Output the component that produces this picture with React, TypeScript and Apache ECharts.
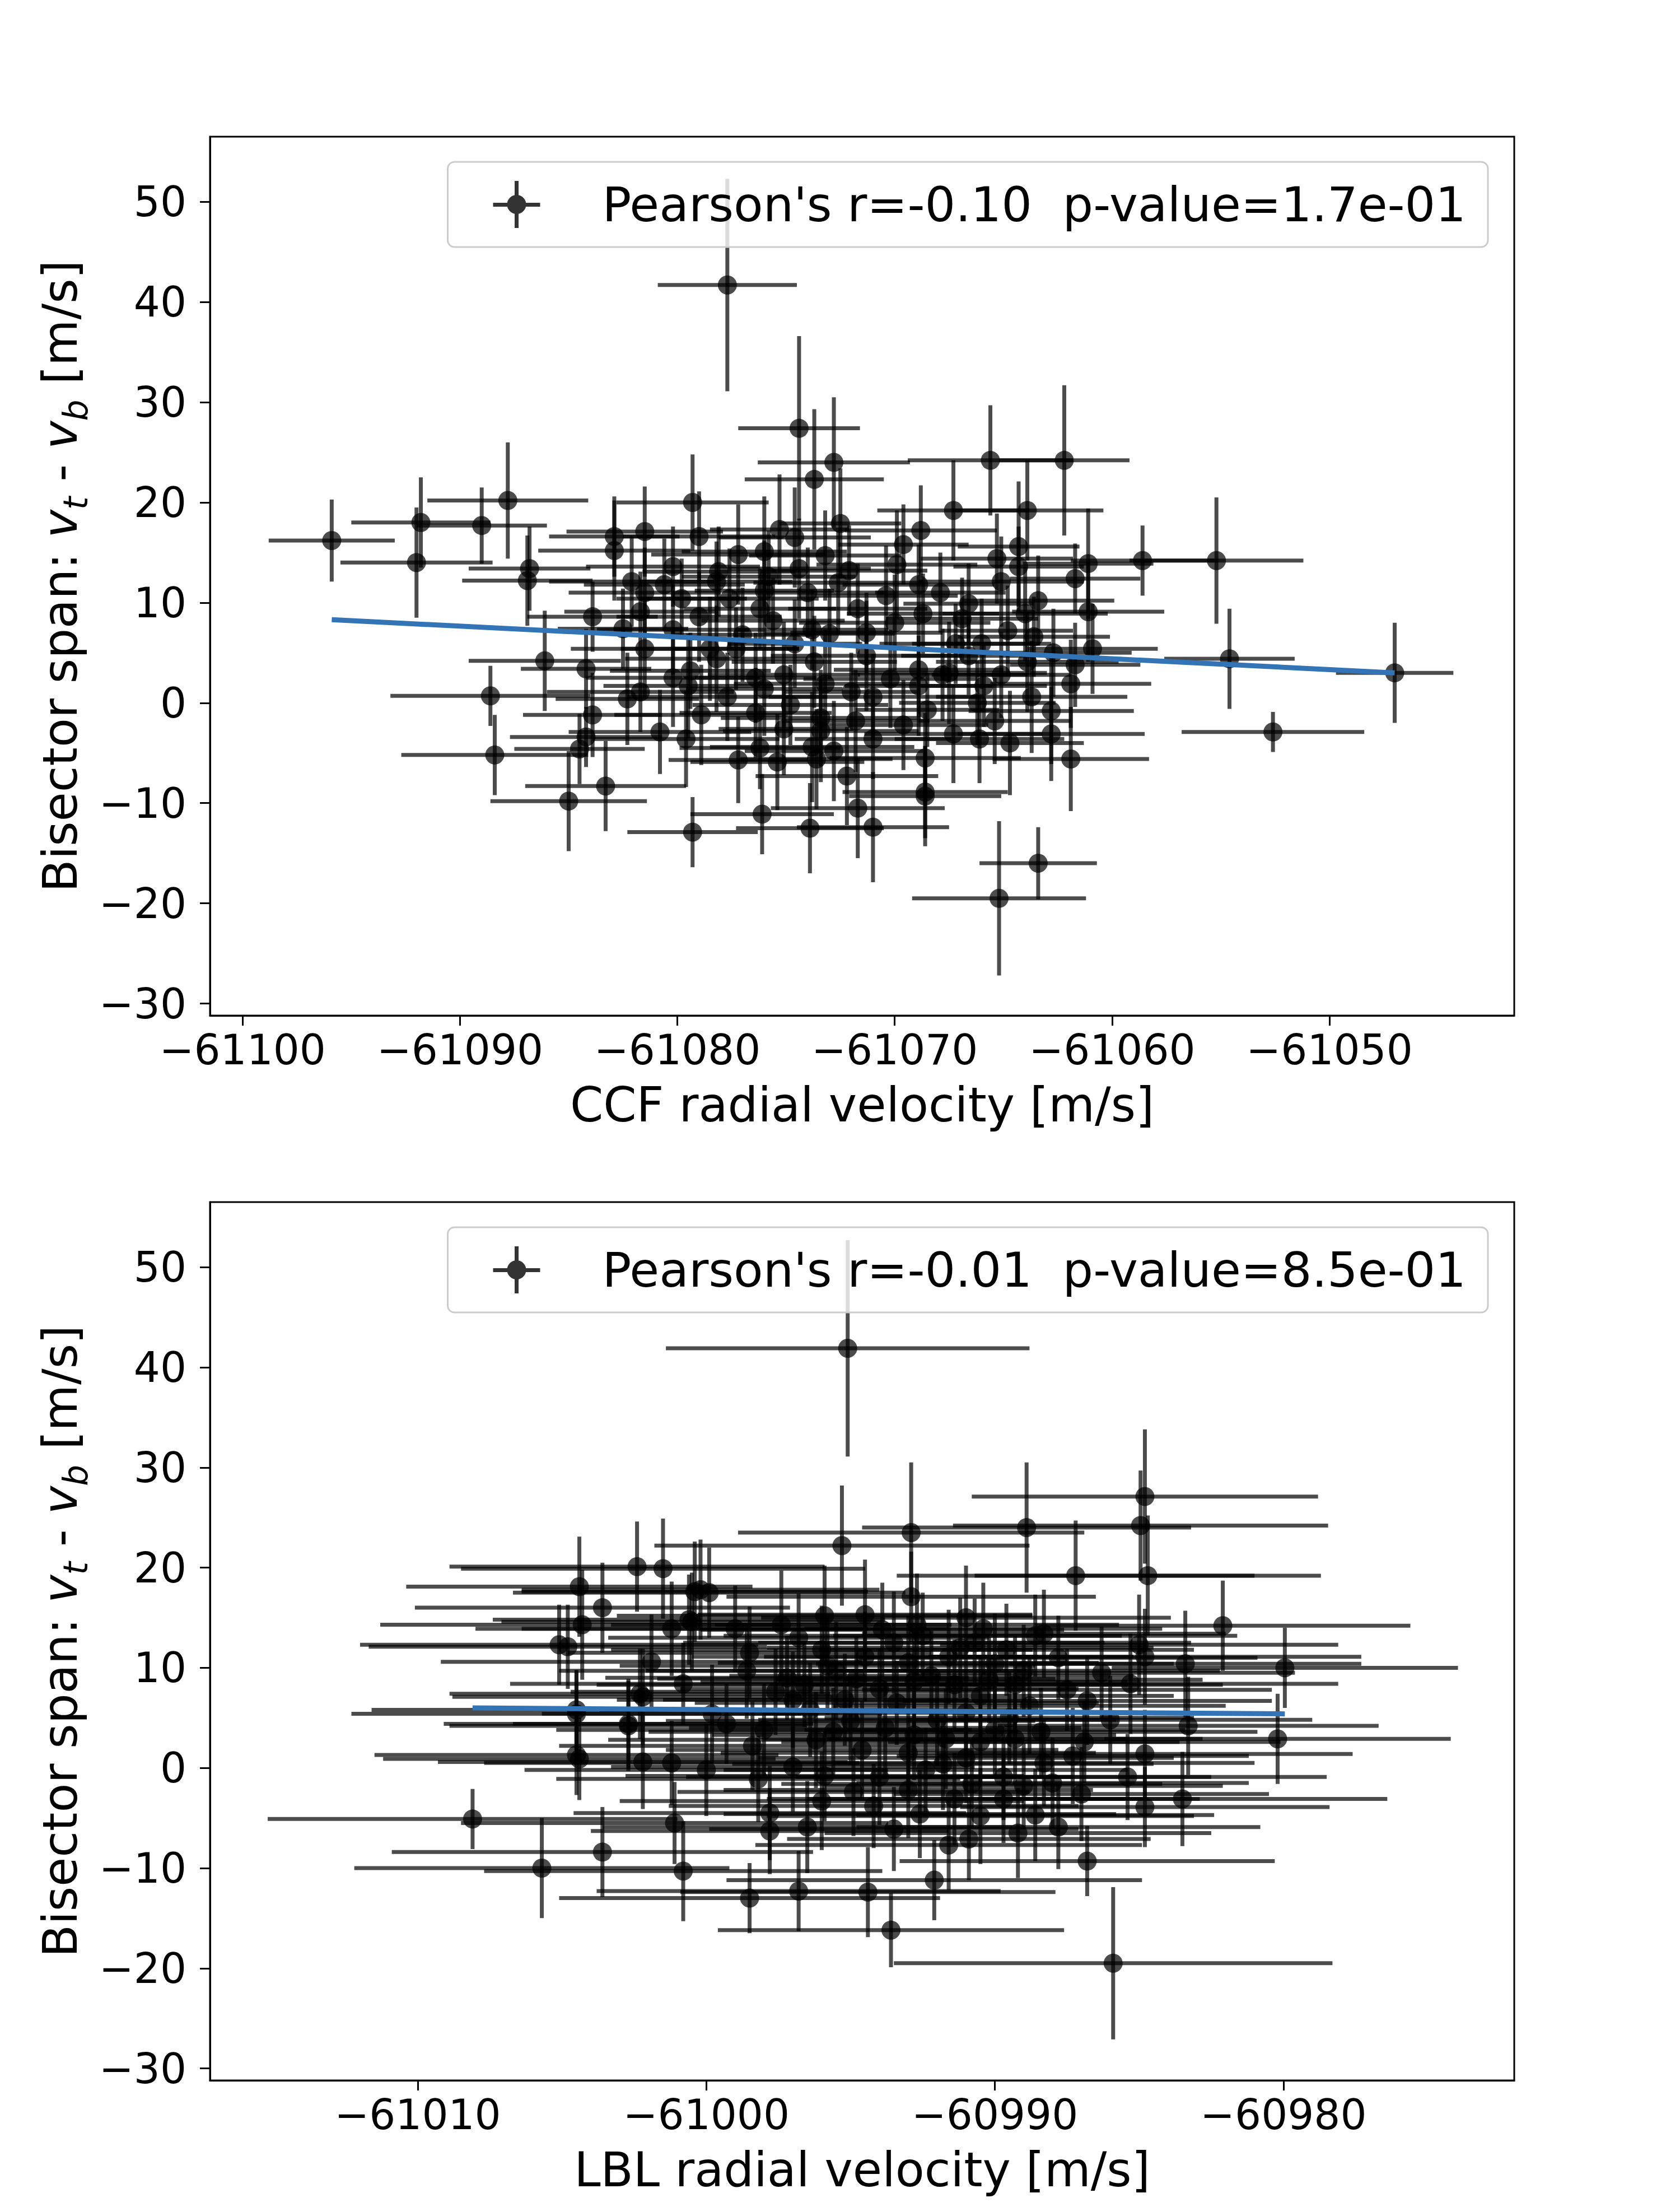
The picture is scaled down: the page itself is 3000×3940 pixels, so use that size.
import React, { useEffect, useRef } from 'react';
import * as echarts from 'echarts';

// ---------------- Top panel: CCF radial velocity vs bisector span ----------------
const ccfRv = [
  -61095.9, -61092.0, -61091.8, -61089.0, -61087.8, -61086.8, -61086.9, -61088.6, -61088.4, -61086.1,
  -61085.0, -61084.5, -61084.2, -61084.2, -61083.3, -61079.3, -61079.3, -61077.7, -61074.4, -61072.8,
  -61073.7, -61073.9, -61076.1, -61071.7, -61071.0, -61065.6, -61067.3, -61062.2, -61063.9, -61065.2,
  -61063.4, -61068.6, -61058.6, -61055.2, -61054.6, -61052.6, -61047.0,
  -61072.5, -61081.5, -61082.9, -61079.0, -61075.3, -61068.8, -61069.6, -61074.6, -61064.3, -61082.9,
  -61077.2, -61076.0, -61073.2, -61065.3, -61061.1, -61080.2, -61078.1, -61074.4, -61072.1, -61064.3,
  -61082.1, -61078.2, -61076.0, -61068.9, -61061.7, -61065.1, -61081.5, -61079.8, -61074.0, -61070.4,
  -61067.9, -61063.4, -61066.6, -61061.1, -61083.9, -61081.7, -61079.0, -61076.2, -61071.7, -61068.7,
  -61082.5, -61080.2, -61073.8, -61073.0, -61071.3, -61064.8, -61063.6, -61060.9, -61067.2, -61066.0,
  -61081.5, -61078.5, -61077.3, -61073.7, -61071.3, -61066.6, -61062.7, -61063.9, -61061.7, -61068.9,
  -61067.5, -61065.1, -61079.4, -61080.2, -61076.4, -61075.1, -61081.7, -61082.3, -61079.5, -61077.7,
  -61076.0, -61073.2, -61072.0, -61071.0, -61068.9, -61067.8, -61065.9, -61063.7, -61061.9, -61083.9,
  -61078.9, -61076.4, -61073.4, -61068.5, -61062.8, -61080.8, -61075.1, -61073.4, -61071.0, -61067.3,
  -61066.1, -61064.7, -61062.8, -61076.2, -61073.8, -61077.2, -61075.4, -61073.6, -61068.6, -61061.9,
  -61072.2, -61068.6,
  -61080.6, -61077.6, -61075.6, -61072.6, -61070.0, -61066.9, -61064.0, -61078.2, -61074.6, -61070.2,
  -61066.2, -61079.6, -61071.8, -61069.6, -61074.8, -61077.0, -61069.9, -61075.8, -61065.4, -61072.8,
];
const ccfSpan = [
  16.2, 14.0, 18.0, 17.7, 20.2, 13.4, 12.2, 0.7, -5.2, 4.2,
  -9.8, -4.6, -3.4, 3.4, -8.3, 20.0, -12.9, 41.7, 27.4, 24.0,
  22.3, -12.5, -11.1, -10.5, -12.4, 24.2, 19.2, 24.2, 19.2, -19.5,
  -16.0, -9.3, 14.2, 14.2, 4.4, -2.9, 3.0,
  17.9, 17.1, 16.6, 16.6, 17.3, 17.2, 15.8, 16.5, 15.6, 15.2,
  14.8, 15.1, 14.7, 14.4, 13.9, 13.6, 13.1, 13.4, 13.2, 13.6,
  12.1, 12.1, 11.2, 11.8, 12.4, 12.1, 11.0, 10.4, 11.0, 10.7,
  11.0, 10.2, 9.9, 9.1, 8.6, 9.1, 8.6, 9.4, 9.4, 8.9,
  7.4, 7.3, 7.3, 6.9, 7.0, 7.2, 6.6, 5.4, 5.9, 5.9,
  5.4, 5.4, 5.4, 4.1, 4.7, 4.7, 5.0, 4.1, 3.8, 3.3,
  3.0, 2.8, 3.2, 2.5, 2.5, 2.8, 1.1, 0.4, 1.7, 0.6,
  1.4, 1.9, 1.1, 0.6, 1.7, 2.8, 1.7, 0.6, 1.9, -1.2,
  -1.2, -1.0, -1.5, -0.7, -0.8, -2.9, -2.6, -2.8, -3.6, -3.1,
  -3.6, -4.0, -3.1, -4.5, -4.4, -5.7, -5.9, -5.6, -5.5, -5.6,
  -7.3, -8.9,
  11.8, 10.4, 8.2, 12.0, 8.0, 8.4, 8.9, 4.4, 5.9, 2.4,
  0.0, -3.6, -1.8, -2.2, -0.2, 6.8, 13.8, 12.6, -1.8, -4.8,
];
const ccfRvErr = [
  2.9, 3.5, 3.2, 3.0, 3.7, 2.8, 3.0, 4.6, 4.3, 3.5,
  3.6, 3.0, 3.5, 3.0, 3.7, 3.5, 3.0, 3.2, 2.8, 3.5,
  3.2, 3.4, 3.3, 4.0, 3.5, 3.8, 3.5, 3.0, 3.5, 4.0,
  2.7, 3.5, 3.3, 4.0, 3.0, 4.2, 2.7,
  2.8, 3.6, 3.0, 3.5, 3.2, 3.5, 3.0, 3.5, 2.8, 3.5,
  4.0, 3.8, 3.5, 3.5, 3.0, 4.0, 3.5, 3.3, 3.6, 3.0,
  3.8, 3.5, 3.2, 3.5, 3.0, 3.8, 3.5, 3.0, 3.5, 3.3,
  3.0, 3.5, 3.0, 3.5, 3.0, 3.5, 3.8, 3.5, 3.2, 3.5,
  3.0, 3.5, 3.5, 3.0, 3.5, 3.0, 3.5, 3.0, 3.5, 3.2,
  3.4, 4.1, 2.9, 3.8, 4.4, 3.1, 3.6, 4.2, 3.0, 3.9,
  4.5, 3.2, 3.7, 4.0, 2.8, 3.5, 4.3, 3.3, 3.9, 4.6,
  3.6, 4.2, 3.1, 4.8, 3.4, 3.9, 2.9, 4.4, 3.7, 3.2,
  4.0, 3.5, 4.6, 3.3, 3.8, 4.2, 3.0, 4.5, 3.6, 4.1,
  3.9, 3.4, 4.3, 3.7, 4.7, 3.2, 4.0, 3.5, 4.4, 3.6,
  4.2, 3.8,
  3.7, 4.1, 3.3, 3.9, 4.4, 3.5, 3.8, 4.2, 3.1, 4.0,
  3.6, 4.3, 3.4, 3.9, 4.5, 3.2, 3.7, 4.0, 3.5, 4.1,
];
const ccfSpanErr = [
  4.1, 5.5, 4.5, 3.8, 5.8, 4.2, 4.5, 3.0, 4.0, 5.0,
  5.0, 3.5, 3.0, 4.0, 4.5, 4.8, 3.5, 10.6, 9.2, 6.5,
  7.0, 4.5, 4.0, 5.0, 5.5, 5.5, 5.0, 7.5, 5.0, 7.7,
  3.6, 5.0, 3.5, 6.3, 5.0, 2.0, 5.0,
  5.5, 4.5, 4.0, 4.5, 5.5, 4.5, 4.0, 5.0, 6.5, 5.0,
  5.0, 5.5, 4.5, 4.5, 5.5, 4.0, 4.5, 5.0, 4.5, 4.0,
  4.5, 4.0, 5.0, 4.0, 3.5, 4.5, 4.5, 4.0, 4.5, 5.0,
  4.0, 4.5, 4.0, 5.0, 3.5, 4.0, 4.5, 4.0, 4.5, 4.0,
  4.0, 4.5, 4.0, 4.5, 4.0, 4.5, 4.0, 4.5, 4.0, 4.5,
  4.8, 5.2, 4.1, 4.6, 5.5, 3.9, 4.4, 5.0, 4.2, 4.7,
  5.1, 4.3, 3.8, 4.9, 4.5, 5.3, 4.0, 4.6, 5.2, 4.4,
  4.7, 5.4, 3.9, 4.3, 5.0, 4.6, 4.1, 5.6, 4.4, 4.2,
  5.0, 4.5, 4.8, 3.7, 5.3, 4.2, 4.6, 5.1, 4.0, 4.9,
  4.4, 5.2, 4.7, 4.1, 5.5, 4.3, 4.8, 5.0, 4.5, 5.2,
  4.9, 4.6,
  4.6, 5.0, 4.3, 5.2, 4.8, 4.1, 4.7, 5.3, 4.4, 4.9,
  4.2, 4.8, 5.1, 4.5, 4.0, 4.7, 5.4, 4.6, 4.3, 5.0,
];

// ---------------- Bottom panel: LBL radial velocity vs bisector span ----------------
const lblRv = [
  -60995.1, -60985.9, -60984.8, -60984.95, -60988.9, -60992.9, -60995.3, -60987.2, -60984.7, -61002.4,
  -61001.5, -61004.4, -61003.6, -61004.3, -60982.1, -61000.4, -60999.9, -60995.9, -60994.5, -60992.9,
  -60991.0, -60990.4, -61000.5, -60999.0, -60997.4, -61001.2, -60992.7, -60988.3, -60985.0, -60984.8,
  -60983.4, -60979.95, -60986.3, -60985.3, -60986.8, -61004.8, -61001.9, -61000.8, -61002.2, -61004.5,
  -61002.7, -61004.4, -61002.2, -61001.2, -60999.8, -60999.3, -61000.0, -60998.2, -60998.4, -60997.0,
  -60996.6, -60995.5, -60994.5, -60993.5, -60992.5, -60991.6, -60990.7, -60990.0, -60989.0, -60988.6,
  -60998.6, -60997.6, -60995.2, -60994.0, -60992.8, -60991.4, -60990.5, -60989.3, -60995.0, -60993.8,
  -60992.8, -60991.7, -60990.5, -60989.3, -60988.3, -60987.3, -60986.9, -60984.8, -60983.3, -60980.2,
  -60985.4, -60983.5, -60984.8, -60986.8, -60987.8, -60988.6, -60989.7, -60990.5, -60990.9, -60991.6,
  -60992.1, -60993.6, -60994.4, -60996.8, -60998.5, -61000.8, -61003.6, -60993.5, -60996.5, -60997.8,
  -60997.8, -61001.1, -60994.9, -60994.0, -60992.4, -60991.4, -60989.7, -60997.0, -61005.1, -61002.3,
  -61004.5, -61002.7, -61004.5, -61000.6, -61000.2, -61008.1, -61005.7, -60996.0, -60993.0, -60991.0,
  -60989.5, -60987.8, -60996.2, -60993.0, -60988.0, -60986.0, -60998.5,
  -60996.8, -60995.8, -60994.8, -60993.9, -60992.2, -60991.2, -60990.2, -60989.6, -60988.8, -60987.5,
  -60996.4, -60995.6, -60994.6, -60993.4, -60992.0, -60991.0, -60990.0, -60989.0, -60988.4, -60987.0,
  -60995.9, -60994.2, -60993.0, -60992.6, -60991.8, -60990.8, -60996.0, -60989.2, -60997.2, -60998.0,
];
const lblSpan = [
  41.9, -19.5, 27.1, 24.2, 24.0, 23.5, 22.2, 19.2, 19.2, 20.1,
  19.9, 18.1, 16.0, 14.3, 14.2, 17.6, 17.5, 15.2, 15.3, 17.1,
  15.0, 13.9, 14.6, 13.9, 14.3, 13.9, 14.3, 13.4, 12.3, 11.1,
  10.4, 10.0, 9.5, 8.4, 6.7, 12.1, 10.6, 8.4, 7.1, 5.4,
  4.2, 0.9, 0.6, 0.5, 5.4, 4.4, -0.2, -1.1, 2.2, 6.8,
  8.3, 9.7, 11.1, 12.5, 13.2, 11.1, 12.5, 10.4, 9.7, 13.2,
  9.7, 7.6, 6.8, 7.9, 8.6, 8.3, 7.2, 8.3, 4.7, 4.0,
  3.3, 2.9, 2.6, 2.9, 0.5, 1.2, 2.6, 1.4, 4.2, 2.9,
  -0.9, -3.1, -3.9, -9.3, -5.9, -4.7, -3.1, -4.8, -7.1, -7.7,
  -11.2, -16.2, -12.4, -12.3, -13.0, -10.3, -8.4, -6.1, -5.9, -6.3,
  -4.5, -5.5, -2.4, -0.9, -0.2, -3.1, -0.9, 0.1, 12.3, 7.4,
  5.8, 4.4, 1.3, 14.8, 17.8, -5.1, -10.0, 11.8, 10.5, 5.5,
  5.0, 11.0, 2.8, 1.5, -1.5, 4.8, 11.5,
  13.0, 10.2, 8.9, 13.8, 9.2, 12.0, 8.8, 11.8, 6.2, 7.8,
  5.8, 3.6, 1.8, 6.5, 4.8, 1.0, 3.8, -1.8, 3.6, -2.6,
  -0.8, -3.8, -2.2, -4.6, 0.4, -1.6, -3.3, -6.5, 9.0, 3.8,
];
const lblRvErr = [
  6.3, 7.6, 6.0, 6.5, 5.7, 6.0, 6.5, 6.2, 6.0, 6.5,
  7.0, 6.0, 6.5, 7.0, 6.5, 6.0, 6.8, 7.2, 5.8, 6.4,
  7.1, 6.2, 6.6, 7.4, 5.9, 6.8, 7.0, 6.3, 6.9, 7.5,
  6.1, 6.0, 6.7, 7.2, 6.4, 6.9, 7.3, 6.0, 6.6, 7.8,
  6.2, 6.8, 7.1, 6.5, 5.9, 7.4, 6.3, 7.0, 6.7, 6.1,
  7.2, 6.6, 6.0, 7.3, 6.9, 6.4, 7.5, 6.2, 6.8, 7.0,
  6.5, 7.1, 6.3, 6.9, 7.4, 6.0, 6.7, 7.2, 6.4, 6.8,
  7.0, 6.3, 6.9, 6.5, 7.3, 6.1, 6.8, 7.2, 6.6, 6.0,
  6.9, 7.1, 6.4, 6.5, 7.0, 6.2, 6.8, 7.4, 6.3, 6.7,
  7.2, 6.0, 6.5, 7.0, 6.6, 6.9, 7.3, 6.4, 7.1, 6.2,
  6.8, 7.4, 6.1, 6.7, 7.0, 6.5, 7.2, 6.3, 6.9, 6.6,
  7.1, 6.4, 7.0, 6.8, 6.2, 7.1, 6.5, 7.3, 6.6, 7.0,
  6.4, 6.9, 7.2, 6.5, 6.8, 7.0, 6.3,
  6.6, 7.2, 6.9, 6.3, 7.0, 6.7, 7.4, 6.5, 6.8, 7.1,
  7.3, 6.4, 6.8, 7.0, 6.2, 7.2, 6.6, 6.9, 7.5, 6.5,
  6.9, 7.1, 6.4, 6.8, 7.3, 6.6, 7.0, 6.7, 6.3, 7.2,
];
const lblSpanErr = [
  10.8, 7.6, 6.7, 5.5, 6.5, 7.0, 6.0, 5.5, 6.0, 4.5,
  5.0, 5.0, 4.5, 5.5, 4.5, 5.0, 4.5, 5.0, 5.5, 4.5,
  5.2, 4.6, 4.9, 4.3, 5.4, 4.7, 5.1, 4.4, 5.0, 4.8,
  5.3, 4.0, 4.6, 5.0, 4.4, 4.2, 4.7, 4.1, 4.8, 4.3,
  4.5, 4.1, 4.7, 4.2, 4.9, 4.0, 4.6, 4.3, 4.4, 4.8,
  4.2, 4.9, 4.5, 5.1, 4.3, 4.7, 4.4, 5.0, 4.6, 4.1,
  4.8, 4.3, 4.6, 4.0, 5.2, 4.5, 4.1, 4.9, 4.4, 4.7,
  4.5, 5.0, 4.2, 4.6, 4.3, 4.8, 4.1, 4.4, 4.9, 4.5,
  4.3, 4.7, 4.0, 3.5, 4.2, 4.6, 4.4, 4.8, 4.1, 4.5,
  4.0, 3.7, 4.5, 4.0, 3.5, 5.0, 4.5, 4.2, 4.6, 4.3,
  4.7, 4.1, 4.4, 4.8, 4.2, 4.6, 4.3, 4.5, 4.0, 4.5,
  4.0, 4.5, 4.0, 4.5, 5.0, 3.0, 5.0, 4.4, 4.7, 4.3,
  4.6, 4.2, 4.8, 4.1, 4.5, 4.4, 4.6,
  4.4, 4.9, 4.2, 4.7, 4.5, 5.0, 4.3, 4.6, 4.8, 4.1,
  4.7, 4.4, 4.9, 4.2, 4.6, 4.5, 4.8, 4.3, 4.4, 4.7,
  4.5, 4.2, 4.8, 4.4, 4.6, 4.3, 4.9, 4.5, 4.2, 4.6,
];

// Linear fits: y = y0 + slope * (x - x0)
const ccfFit = { x0: -61070, y0: 5.49, slope: -0.1084 };
const lblFit = { x0: -60995, y0: 5.72, slope: -0.0214 };

// Tick values
const spanTicks = [-30, -20, -10, 0, 10, 20, 30, 40, 50];
const ccfTicks = [-61100, -61090, -61080, -61070, -61060, -61050];
const lblTicks = [-61010, -61000, -60990, -60980];

// Axis extents
const ccfRange = [-61101.5, -61041.5];
const lblRange = [-61017.2, -60972.0];
const spanRange = [-31.2, 56.5];

const ccfLegend = "Pearson's r=-0.10  p-value=1.7e-01";
const lblLegend = "Pearson's r=-0.01  p-value=8.5e-01";

const FONT = 'DejaVu Sans';
const BAR_COLOR = 'rgba(0,0,0,0.7)';
const FIT_COLOR = '#3274b5';
const ICON =
  'path://M0,39 H84 V46 H0 Z M38.5,0 H45.5 V84 H38.5 Z M42,25 A17,17 0 1,1 41.99,25 Z';

const fmt = (v: number) => (v < 0 ? '\u2212' + Math.abs(v) : String(v));

function xAxisFor(gridIndex: number, range: number[], ticks: number[], name: string) {
  return {
    type: 'value',
    gridIndex,
    min: range[0],
    max: range[1],
    minInterval: 10,
    maxInterval: 10,
    name,
    nameLocation: 'middle',
    nameGap: 117,
    nameTextStyle: { fontFamily: FONT, fontSize: 85, color: '#000' },
    axisLine: { show: true, onZero: false, lineStyle: { color: '#000', width: 3 } },
    axisTick: { show: true, length: 18, customValues: ticks, lineStyle: { color: '#000', width: 3 } },
    axisLabel: {
      show: true,
      customValues: ticks,
      formatter: fmt,
      fontFamily: FONT,
      fontSize: 74,
      color: '#000',
      margin: 24,
    },
    splitLine: { show: false },
  };
}

function yAxisFor(gridIndex: number) {
  return {
    type: 'value',
    gridIndex,
    min: spanRange[0],
    max: spanRange[1],
    minInterval: 10,
    maxInterval: 10,
    name: '{n|Bisector span: }{i|v}{s|t}{n| - }{i|v}{s|b}{n| [m/s]}',
    nameLocation: 'middle',
    nameRotate: 90,
    nameGap: 210,
    nameTextStyle: {
      fontFamily: FONT,
      fontSize: 85,
      color: '#000',
      rich: {
        n: { fontFamily: FONT, fontSize: 85, color: '#000', lineHeight: 116 },
        i: { fontFamily: FONT, fontSize: 85, fontStyle: 'italic', color: '#000', lineHeight: 116 },
        s: {
          fontFamily: FONT,
          fontSize: 60,
          fontStyle: 'italic',
          color: '#000',
          lineHeight: 60,
          verticalAlign: 'bottom',
        },
      },
    },
    axisLine: { show: true, onZero: false, lineStyle: { color: '#000', width: 3 } },
    axisTick: { show: true, length: 18, customValues: spanTicks, lineStyle: { color: '#000', width: 3 } },
    axisLabel: {
      show: true,
      customValues: spanTicks,
      formatter: fmt,
      fontFamily: FONT,
      fontSize: 74,
      color: '#000',
      margin: 42,
    },
    splitLine: { show: false },
  };
}

function errorBars(idx: number, xs: number[], ys: number[], xe: number[], ye: number[]) {
  return {
    type: 'custom',
    xAxisIndex: idx,
    yAxisIndex: idx,
    silent: true,
    clip: true,
    z: 2,
    data: xs.map((x, i) => [x, ys[i], xe[i], ye[i]]),
    encode: { x: 0, y: 1 },
    renderItem: (_params: any, api: any) => {
      const x = api.value(0);
      const y = api.value(1);
      const dx = api.value(2);
      const dy = api.value(3);
      const l = api.coord([x - dx, y]);
      const r = api.coord([x + dx, y]);
      const t = api.coord([x, y + dy]);
      const b = api.coord([x, y - dy]);
      const style = { stroke: BAR_COLOR, lineWidth: 7, fill: null };
      return {
        type: 'group',
        children: [
          { type: 'line', shape: { x1: l[0], y1: l[1], x2: r[0], y2: r[1] }, style },
          { type: 'line', shape: { x1: t[0], y1: t[1], x2: b[0], y2: b[1] }, style },
        ],
      };
    },
  };
}

function markers(idx: number, name: string, xs: number[], ys: number[]) {
  return {
    type: 'scatter',
    name,
    xAxisIndex: idx,
    yAxisIndex: idx,
    symbol: 'circle',
    symbolSize: 34,
    silent: true,
    z: 3,
    itemStyle: { color: '#000', opacity: 0.7 },
    data: xs.map((x, i) => [x, ys[i]]),
  };
}

function fitLine(idx: number, xs: number[], fit: { x0: number; y0: number; slope: number }) {
  const lo = Math.min(...xs);
  const hi = Math.max(...xs);
  const f = (x: number) => fit.y0 + fit.slope * (x - fit.x0);
  return {
    type: 'line',
    name: 'fit' + idx,
    xAxisIndex: idx,
    yAxisIndex: idx,
    showSymbol: false,
    symbol: 'none',
    silent: true,
    z: 4,
    lineStyle: { color: FIT_COLOR, width: 9 },
    data: [
      [lo, f(lo)],
      [hi, f(hi)],
    ],
  };
}

function legendFor(name: string, top: number) {
  return {
    data: [{ name, icon: ICON }],
    selectedMode: false,
    right: 343,
    top,
    orient: 'horizontal',
    itemWidth: 84,
    itemHeight: 84,
    padding: [33, 39, 33, 81],
    backgroundColor: 'rgba(255,255,255,0.8)',
    borderColor: '#cccccc',
    borderWidth: 3,
    borderRadius: 12,
    itemStyle: { borderWidth: 0, opacity: 0.8 },
    textStyle: {
      fontFamily: FONT,
      fontSize: 86,
      color: '#000',
      padding: [0, 0, 0, 106],
    },
    z: 10,
  };
}

const option = {
  animation: false,
  backgroundColor: '#ffffff',
  grid: [
    {
      left: 375,
      top: 244,
      width: 2329,
      height: 1569,
      show: true,
      borderColor: '#000',
      borderWidth: 3,
      backgroundColor: 'transparent',
      containLabel: false,
    },
    {
      left: 375,
      top: 2146,
      width: 2329,
      height: 1568,
      show: true,
      borderColor: '#000',
      borderWidth: 3,
      backgroundColor: 'transparent',
      containLabel: false,
    },
  ],
  xAxis: [
    xAxisFor(0, ccfRange, ccfTicks, 'CCF radial velocity [m/s]'),
    xAxisFor(1, lblRange, lblTicks, 'LBL radial velocity [m/s]'),
  ],
  yAxis: [yAxisFor(0), yAxisFor(1)],
  legend: [legendFor(ccfLegend, 289), legendFor(lblLegend, 2191)],
  series: [
    errorBars(0, ccfRv, ccfSpan, ccfRvErr, ccfSpanErr),
    markers(0, ccfLegend, ccfRv, ccfSpan),
    fitLine(0, ccfRv, ccfFit),
    errorBars(1, lblRv, lblSpan, lblRvErr, lblSpanErr),
    markers(1, lblLegend, lblRv, lblSpan),
    fitLine(1, lblRv, lblFit),
  ],
};

export default function App() {
  const ref = useRef<HTMLDivElement>(null);
  useEffect(() => {
    if (!ref.current) return;
    const chart = echarts.init(ref.current, null, { renderer: 'svg' });
    chart.setOption(option as any);
    return () => {
      chart.dispose();
    };
  }, []);
  return (
    <div
      ref={ref}
      style={{ position: 'absolute', left: 0, top: 0, width: 3000, height: 3940, background: '#ffffff' }}
    />
  );
}
